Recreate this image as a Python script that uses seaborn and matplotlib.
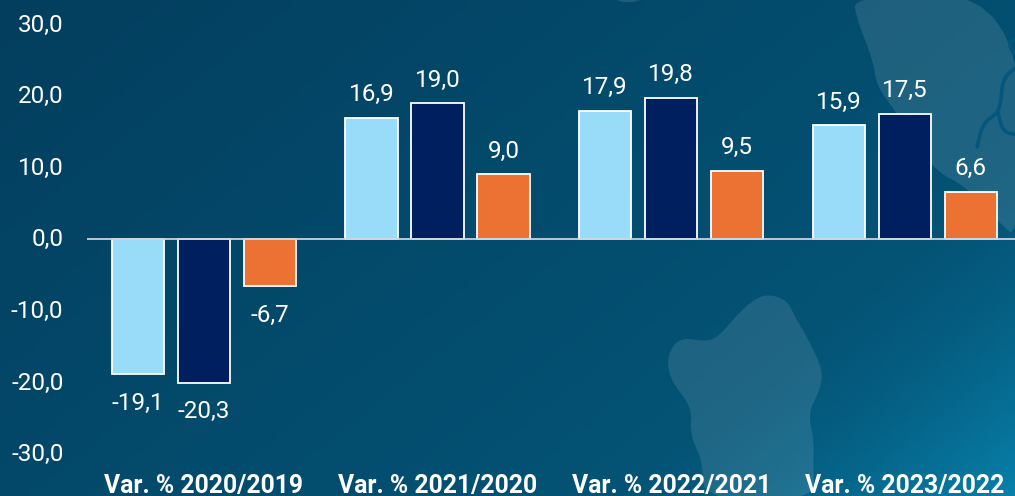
import numpy as np
import pandas as pd
import matplotlib
matplotlib.use('Agg')
import matplotlib.pyplot as plt
import seaborn as sns
from matplotlib.patches import Polygon
from matplotlib.transforms import ScaledTranslation

periods = ['Var. % 2020/2019', 'Var. % 2021/2020', 'Var. % 2022/2021', 'Var. % 2023/2022']
series_names = ['Serie 1', 'Serie 2', 'Serie 3']
serie_1 = [-19.1, 16.9, 17.9, 15.9]
serie_2 = [-20.3, 19.0, 19.8, 17.5]
serie_3 = [-6.7, 9.0, 9.5, 6.6]
y_ticks = [-30, -20, -10, 0, 10, 20, 30]
colors = ['#99DCFA', '#001F5F', '#EB7232']

# map shapes of the background, in picture pixels
blob_low = [(768, 294), (787, 300), (795, 317), (807, 337), (823, 370), (820, 390), (808, 413),
            (814, 440), (813, 467), (815, 500), (703, 500), (703, 462), (690, 435), (692, 407),
            (670, 380), (667, 355), (680, 337), (707, 342), (720, 335), (737, 315), (753, 300)]
blob_high = [(853, -5), (857, 20), (873, 60), (877, 87), (897, 113), (933, 170), (967, 187),
             (997, 220), (1020, 242), (1020, -5)]
blob_top = [(610, -5), (615, 0), (628, 3), (642, 0), (648, -5)]
river_main = [(1018, 66), (1003, 78), (1001, 100), (998, 113), (983, 123), (977, 147)]
river_branch = [(998, 113), (1003, 132), (1018, 135)]
river_top = [(1018, 38), (1009, 42), (1012, 52), (1018, 57)]


def smooth(points, rounds=3):
    pts = np.array(points, dtype=float)
    for _ in range(rounds):
        nxt = np.roll(pts, -1, axis=0)
        pts = np.column_stack([0.75 * pts + 0.25 * nxt, 0.25 * pts + 0.75 * nxt]).reshape(-1, 2)
    return pts


def smooth_line(points, rounds=3):
    pts = np.array(points, dtype=float)
    for _ in range(rounds):
        mid = np.column_stack([0.75 * pts[:-1] + 0.25 * pts[1:], 0.25 * pts[:-1] + 0.75 * pts[1:]]).reshape(-1, 2)
        pts = np.vstack([pts[0], mid, pts[-1]])
    return pts


def comma(v):
    return f'{v:.1f}'.replace('.', ',')


sns.set_theme(style='white')
plt.rcParams['font.family'] = ['Roboto', 'DejaVu Sans']

fig = plt.figure(figsize=(10.15, 4.96), dpi=100)

# background gradient
bg = fig.add_axes([0, 0, 1, 1], zorder=0)
xx, yy = np.meshgrid(np.linspace(0, 1, 300), np.linspace(0, 1, 150))
t = np.clip((xx * 0.62 + yy * 0.38), 0, 1)
c0 = np.array([3, 62, 94]) / 255
c1 = np.array([4, 82, 116]) / 255
c2 = np.array([8, 128, 170]) / 255
w1 = np.clip(t / 0.72, 0, 1)[..., None]
w2 = (np.clip((t - 0.72) / 0.28, 0, 1) ** 1.6)[..., None]
img = c0 * (1 - w1) + c1 * w1
img = img * (1 - w2) + c2 * w2
bg.imshow(img, extent=[0, 1015, 496, 0], aspect='auto')
for shape in [blob_low, blob_high, blob_top]:
    bg.add_patch(Polygon(smooth(shape), closed=True, fc='white', ec='none', alpha=0.11))
for river in [river_main, river_branch, river_top]:
    bg.plot(*smooth_line(river).T, color='#05567C', lw=2.6, solid_capstyle='round')
bg.set_xlim(0, 1015)
bg.set_ylim(496, 0)
bg.axis('off')

data = pd.DataFrame({
    'period': periods * 3,
    'serie': np.repeat(series_names, 4),
    'value': serie_1 + serie_2 + serie_3,
})

# x axis runs a little past the right edge of the picture
ax = fig.add_axes([87 / 1015, (496 - 452) / 496, 934.7 / 1015, 427 / 496], zorder=1)
ax.patch.set_alpha(0)
sns.barplot(data=data, x='period', y='value', hue='serie', palette=colors, width=0.8474, gap=0.21,
            edgecolor='white', linewidth=1.3, saturation=1, legend=False, ax=ax, zorder=2)
ax.axhline(0, color='#C9D3DA', lw=1.3, zorder=3)

for bars in ax.containers:
    for b in bars:
        v = b.get_height()
        ax.annotate(comma(v), (b.get_x() + b.get_width() / 2, v), xytext=(0, 8.5 if v > 0 else -12.5),
                    textcoords='offset points', ha='center', va='bottom' if v > 0 else 'top',
                    color='white', fontsize=17.5, zorder=4)

ax.set_ylim(-30, 30)
ax.set_xlim(-0.5, 3.5)
ax.set_yticks(y_ticks)
ax.set_yticklabels([comma(v) for v in y_ticks], color='white', fontsize=17.5)
ax.tick_params(axis='y', length=0, pad=17)
ax.tick_params(axis='x', length=0, pad=15.5, colors='white', labelsize=17.8)
# tick labels sit a bit tighter together than the bar scale
for label, v in zip(ax.get_yticklabels(), y_ticks):
    nudge = (v + 30) / 60 * 1.5
    label.set_transform(label.get_transform() + ScaledTranslation(0, nudge / 72, fig.dpi_scale_trans))
for label in ax.get_xticklabels():
    label.set_fontweight('bold')
ax.set_xlabel('')
ax.set_ylabel('')
sns.despine(ax=ax, left=True, bottom=True)

fig.savefig('out.png', dpi=100)
plt.close()
